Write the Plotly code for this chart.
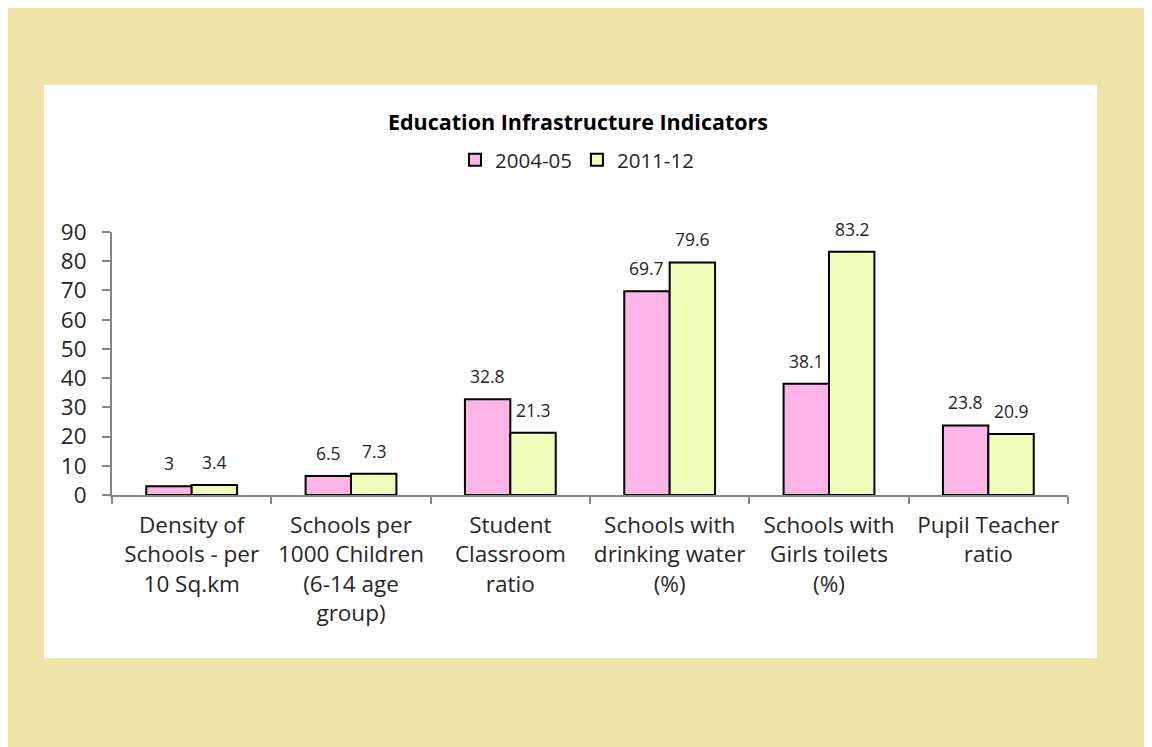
import plotly.graph_objects as go

categories = ['Density of<br>Schools - per<br>10 Sq.km',
              'Schools per<br>1000 Children<br>(6-14 age<br>group)',
              'Student<br>Classroom<br>ratio',
              'Schools with<br>drinking water<br>(%)',
              'Schools with<br>Girls toilets<br>(%)',
              'Pupil Teacher<br>ratio']
values_2004 = [3, 6.5, 32.8, 69.7, 38.1, 23.8]
values_2011 = [3.4, 7.3, 21.3, 79.6, 83.2, 20.9]
y_ticks = [0, 10, 20, 30, 40, 50, 60, 70, 80, 90]

font_name = 'Open Sans, sans-serif'
pink = '#FCB5E6'
green = '#EEFDBA'

# the page puts the figure 8px in from the top left corner
W, H = 1144, 739
L, R, T, B = 104, 84, 224, 252
pw, ph = W - L - R, H - T - B


def px(x):
    return (x - L) / pw


def py(y):
    return (H - B - y) / ph


fig = go.Figure()
fig.add_trace(go.Bar(x=categories, y=values_2004, name='2004-05',
                     marker=dict(color=pink, line=dict(color='black', width=2))))
fig.add_trace(go.Bar(x=categories, y=values_2011, name='2011-12',
                     marker=dict(color=green, line=dict(color='black', width=2))))

# data labels above each bar
for i, c in enumerate(categories):
    for v, dx in ((values_2004[i], -23), (values_2011[i], 23)):
        fig.add_annotation(x=c, y=v, text=str(v), showarrow=False,
                           xshift=dx, yshift=23, yanchor='middle',
                           font=dict(size=17.5, color='#262626', family=font_name))

fig.update_layout(
    width=W, height=H,
    margin=dict(l=L, r=R, t=T, b=B),
    paper_bgcolor='#EFE4A8', plot_bgcolor='rgba(0,0,0,0)',
    barmode='group', bargap=0.43, bargroupgap=0,
    font=dict(family=font_name, color='#262626'),
    title=dict(text='<b>Education Infrastructure Indicators</b>',
               x=px(570), xref='paper', xanchor='center',
               y=1 - 114 / H, yanchor='middle',
               font=dict(size=21.5, color='black', family=font_name)),
    legend=dict(orientation='h', x=px(569), xanchor='center',
                y=py(152), yanchor='middle',
                font=dict(size=20.5, color='#262626'),
                itemwidth=30, bgcolor='rgba(0,0,0,0)'),
    shapes=[
        dict(type='rect', xref='paper', yref='paper', layer='below',
             x0=px(36), x1=px(1089), y0=py(650), y1=py(77),
             fillcolor='white', line_width=0),
    ],
)
fig.update_xaxes(showline=True, linecolor='#868686', linewidth=2,
                 ticks='outside', tickson='boundaries', ticklen=7,
                 tickcolor='#868686', tickwidth=2, ticklabelstandoff=9,
                 tickangle=0,
                 tickfont=dict(size=22.5, color='#262626'), showgrid=False)
fig.update_yaxes(range=[0, 90], tickvals=y_ticks, showline=True,
                 linecolor='#868686', linewidth=2, ticks='outside',
                 ticklen=8, tickcolor='#868686', tickwidth=2,
                 ticklabelstandoff=11,
                 tickfont=dict(size=22.5, color='#262626'), showgrid=False,
                 zeroline=False)

fig.write_html('out.html')
